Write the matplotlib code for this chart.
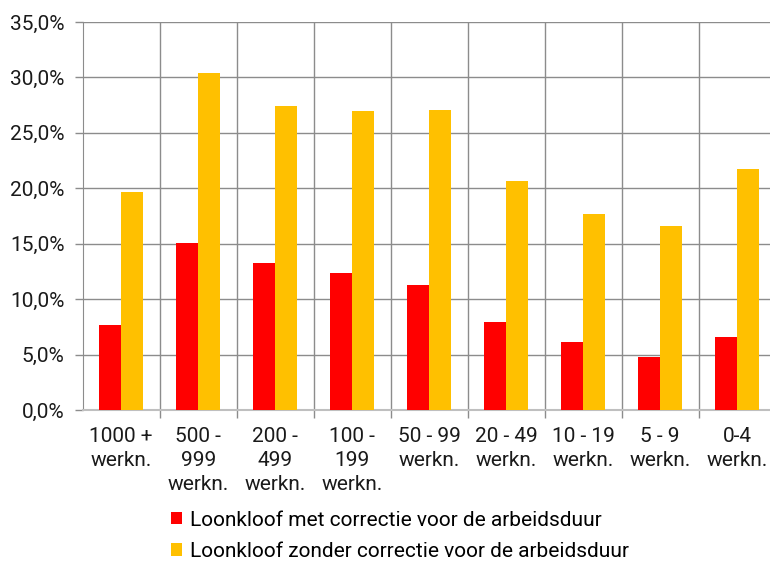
import numpy as np
import matplotlib
matplotlib.use("Agg")
import matplotlib.pyplot as plt
from matplotlib.ticker import FuncFormatter, MultipleLocator

plt.rcParams['font.family'] = ['Roboto', 'DejaVu Sans']

categories = ["1000 +\nwerkn.", "500 -\n999\nwerkn.", "200 -\n499\nwerkn.", "100 -\n199\nwerkn.",
              "50 - 99\nwerkn.", "20 - 49\nwerkn.", "10 - 19\nwerkn.", "5 - 9\nwerkn.", "0-4\nwerkn."]
met_correctie = [7.7, 15.1, 13.3, 12.4, 11.3, 7.9, 6.1, 4.8, 6.6]
zonder_correctie = [19.7, 30.4, 27.4, 27.0, 27.1, 20.7, 17.7, 16.6, 21.7]
series_names = ["Loonkloof met correctie voor de arbeidsduur",
                "Loonkloof zonder correctie voor de arbeidsduur"]

grid_col = '#8c8c8c'
fs = 15

fig = plt.figure(figsize=(7.7, 5.61), dpi=100)
ax = fig.add_axes([0.1074, 0.2692, 0.9, 0.6916])

x = np.arange(len(categories))
w = 0.286
ax.bar(x - w / 2, met_correctie, width=w, color='#FF0000', label=series_names[0], zorder=3)
ax.bar(x + w / 2, zonder_correctie, width=w, color='#FFC000', label=series_names[1], zorder=3)

ax.set_xlim(-0.5, len(categories) - 0.5)
ax.set_ylim(0, 35)
ax.yaxis.set_major_locator(MultipleLocator(5))
ax.yaxis.set_major_formatter(FuncFormatter(lambda v, p: f"{v:.1f}%".replace('.', ',')))
ax.grid(axis='y', color=grid_col, linewidth=1, zorder=0)

ax.set_xticks(x)
ax.set_xticklabels(categories, fontsize=fs, linespacing=1.35)
ax.set_xticks(np.arange(len(categories)) + 0.5, minor=True)
ax.grid(axis='x', which='minor', color=grid_col, linewidth=1, zorder=0)
ax.tick_params(axis='x', which='major', length=0, pad=12, colors='#1a1a1a')
ax.tick_params(axis='x', which='minor', length=6, width=1, color=grid_col)
ax.tick_params(axis='y', length=6, width=1, color=grid_col, pad=7, labelsize=fs, labelcolor='#1a1a1a')

for s in ['top', 'right']:
    ax.spines[s].set_visible(False)
ax.spines['left'].set_color(grid_col)
ax.spines['bottom'].set_color('#bfbfbf')
ax.spines['bottom'].set_linewidth(1.5)

fig.legend(loc='upper left', bbox_to_anchor=(0.222, 0.09), frameon=False, fontsize=fs,
           handlelength=0.55, handleheight=0.55, handletextpad=0.35, labelspacing=0.6,
           borderpad=0, borderaxespad=0)

plt.savefig('out.png', dpi=100)
